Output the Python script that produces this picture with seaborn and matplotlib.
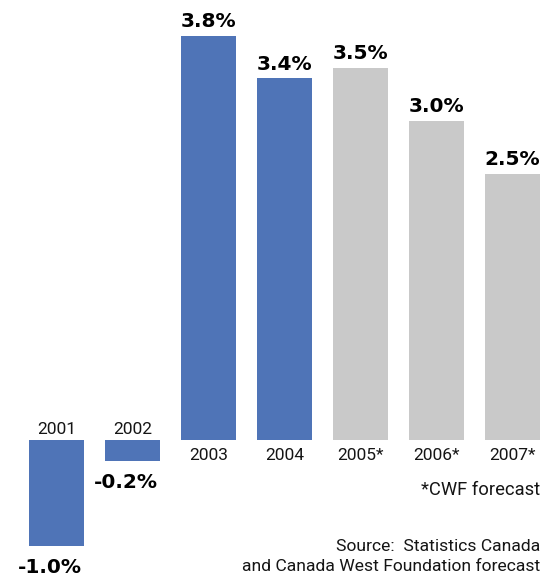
import matplotlib
matplotlib.use("Agg")
import matplotlib.pyplot as plt
import seaborn as sns
import pandas as pd

years = ["2001", "2002", "2003", "2004", "2005*", "2006*", "2007*"]
growth = [-1.0, -0.2, 3.8, 3.4, 3.5, 3.0, 2.5]
kind = ["actual", "actual", "actual", "actual", "forecast", "forecast", "forecast"]
value_labels = ["-1.0%", "-0.2%", "3.8%", "3.4%", "3.5%", "3.0%", "2.5%"]
footnote = "*CWF forecast"
source_lines = ["Source:  Statistics Canada", "and Canada West Foundation forecast"]

df = pd.DataFrame({"year": years, "growth": growth, "kind": kind})

sns.set_theme(style="white")
plt.rcParams["font.family"] = ["Roboto", "DejaVu Sans"]
ink = "#151515"

fig = plt.figure(figsize=(5.48, 5.76), dpi=100)
ax = fig.add_axes([0, 0, 1, 1])
sns.barplot(data=df, x="year", y="growth", hue="kind",
            palette={"actual": "#4F74B7", "forecast": "#C9C9C9"},
            dodge=False, width=0.72, legend=False, ax=ax, saturation=1,
            linewidth=0)

ax.set_xlim(-0.743, 6.467)
ax.set_ylim(-1.278, 4.135)
ax.axis("off")

for i, (yr, v, lab) in enumerate(zip(years, growth, value_labels)):
    if v >= 0:
        ax.annotate(lab, (i, v), xytext=(0, 6.2), textcoords="offset points",
                    ha="center", va="baseline", fontsize=14.5, fontweight="bold",
                    family="DejaVu Sans", color="black")
        ax.annotate(yr, (i, 0), xytext=(0, -14.4), textcoords="offset points",
                    ha="center", va="baseline", fontsize=12.5, color=ink)
    else:
        ax.annotate(lab, (i, v), xytext=(-4.5, -18.9), textcoords="offset points",
                    ha="center", va="baseline", fontsize=14.5, fontweight="bold",
                    family="DejaVu Sans", color="black")
        ax.annotate(yr, (i, 0), xytext=(0, 4.1), textcoords="offset points",
                    ha="center", va="baseline", fontsize=12.5, color=ink)

fig.text(540 / 548, 1 - 495 / 576, footnote, ha="right", va="baseline",
         fontsize=13.2, color=ink)
fig.text(540 / 548, 1 - 551 / 576, source_lines[0], ha="right", va="baseline",
         fontsize=12.6, color=ink)
fig.text(540 / 548, 1 - 571 / 576, source_lines[1], ha="right", va="baseline",
         fontsize=12.6, color=ink)

fig.savefig("out.png", dpi=100)
